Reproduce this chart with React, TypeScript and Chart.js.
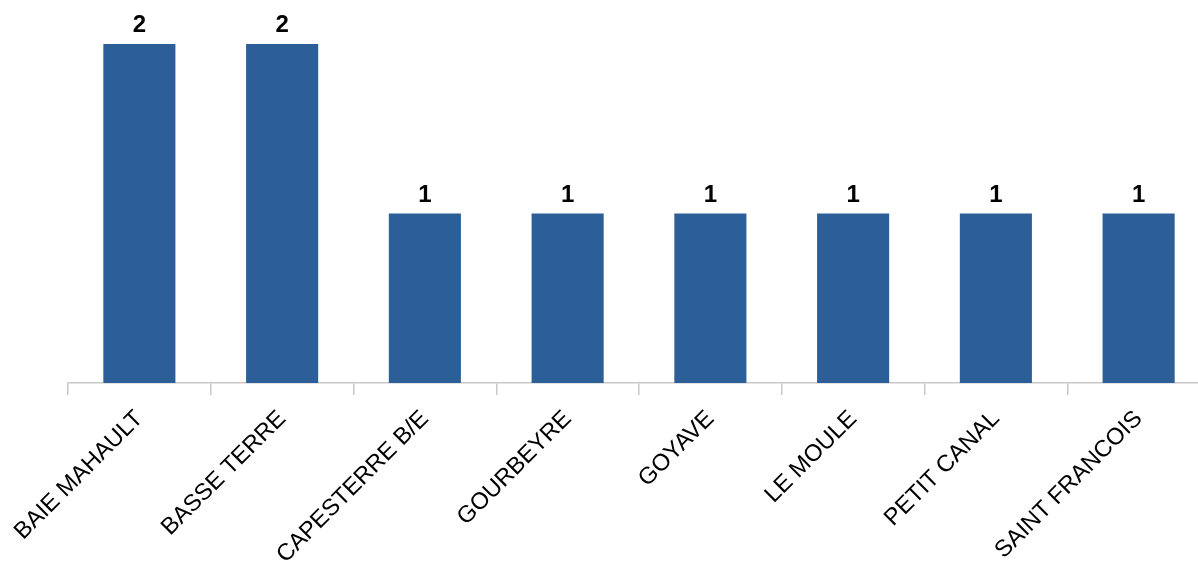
import React, { useEffect, useRef } from "react";
import { Chart, registerables } from "chart.js";

Chart.register(...registerables);

const categories = [
  "BAIE MAHAULT",
  "BASSE TERRE",
  "CAPESTERRE B/E",
  "GOURBEYRE",
  "GOYAVE",
  "LE MOULE",
  "PETIT CANAL",
  "SAINT FRANCOIS",
];
const values = [2, 2, 1, 1, 1, 1, 1, 1];

const BAR_COLOR = "#2C5F97";
const FONT = "'Liberation Sans', Arial, sans-serif";

const dataLabelPlugin = {
  id: "dataLabels",
  afterDatasetsDraw(chart: any) {
    const ctx = chart.ctx;
    const meta = chart.getDatasetMeta(0);
    ctx.save();
    ctx.font = `bold 24px ${FONT}`;
    ctx.fillStyle = "#000000";
    ctx.textAlign = "center";
    ctx.textBaseline = "alphabetic";
    meta.data.forEach((el: any, i: number) => {
      ctx.fillText(String(values[i]), el.x, el.y - 12);
    });
    ctx.restore();
  },
};

export default function App() {
  const ref = useRef<HTMLCanvasElement | null>(null);
  useEffect(() => {
    if (!ref.current) return;
    const chart = new Chart(ref.current, {
      type: "bar",
      data: {
        labels: categories,
        datasets: [
          {
            data: values,
            backgroundColor: BAR_COLOR,
            borderWidth: 0,
            categoryPercentage: 1,
            barPercentage: 0.505,
          },
        ],
      },
      options: {
        responsive: false,
        animation: false,
        devicePixelRatio: 1,
        layout: { padding: { left: 68, right: 0, top: 0, bottom: 0 } },
        plugins: {
          legend: { display: false },
          tooltip: { enabled: false },
          title: { display: false },
        },
        scales: {
          y: {
            display: false,
            min: 0,
            max: 2.26,
          },
          x: {
            afterFit: (scale: any) => {
              scale.height = 178;
            },
            border: { display: true, color: "#C8C8C8", width: 1.5 },
            grid: {
              offset: true,
              drawOnChartArea: false,
              drawTicks: true,
              tickLength: 12,
              color: "#C8C8C8",
              lineWidth: 1.5,
            },
            ticks: {
              autoSkip: false,
              maxRotation: 45,
              minRotation: 45,
              padding: 10,
              color: "#000000",
              font: { family: FONT, size: 23.5 },
            },
          },
        },
      },
      plugins: [dataLabelPlugin],
    });
    return () => chart.destroy();
  }, []);
  return (
    <div
      style={{
        position: "fixed",
        left: 0,
        top: 0,
        width: 1198,
        height: 561,
        overflow: "hidden",
        background: "#ffffff",
      }}
    >
      <canvas ref={ref} width={1210} height={561} style={{ display: "block" }} />
    </div>
  );
}
